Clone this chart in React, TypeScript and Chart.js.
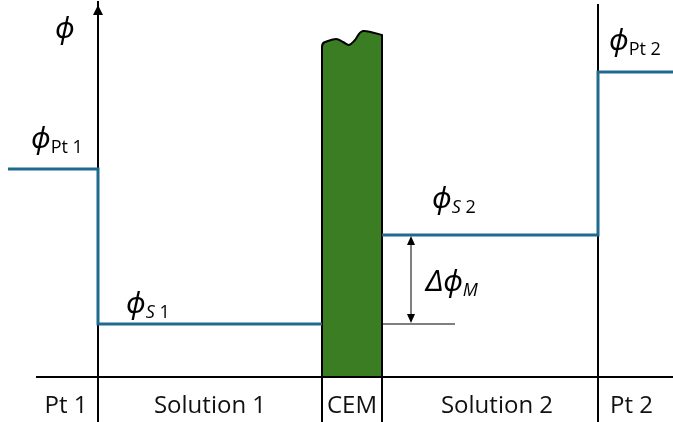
import React, { useEffect, useRef } from 'react';
import { Chart, registerables } from 'chart.js';

Chart.register(...registerables);

// Region names along the cell (x axis) and the x positions of their edges
const regions = ['Pt 1', 'Solution 1', 'CEM', 'Solution 2', 'Pt 2'];
const boundaries = [36, 98, 322, 382, 598, 673];
// Potential levels (arbitrary units, 0 = baseline)
const potentials = [208, 53, 142, 305]; // Pt 1, S 1, S 2, Pt 2
const potentialSubs = ['Pt 1', 'S 1', 'S 2', 'Pt 2'];
const lineStart = 8;
const axisTop = 372;
const pt2Top = 373;
const yBottom = -45;
// wavy top outline of the membrane
const cemTopX = [322, 336, 343, 349, 355, 363, 382];
const cemTopY = [334, 338, 335, 332, 337, 346, 342];
const deltaRefEnd = 455;
const deltaArrowX = 411;

const BLUE = '#1f6a8e';
const GREEN = '#3a7d22';
const SYM = "italic 29px 'Noto Sans', 'DejaVu Sans'";
const SUB = "18px 'Open Sans'";
const SUBI = "italic 18px 'Open Sans'";
const labelShift = [-1, 0, 0, 7, -4];

function seg(x1: number, y1: number, x2: number, y2: number, color: string, w: number, order: number) {
  return {
    type: 'line' as const,
    data: [{ x: x1, y: y1 }, { x: x2, y: y2 }],
    borderColor: color,
    borderWidth: w,
    pointRadius: 0,
    fill: false,
    order,
  };
}

export default function App() {
  const ref = useRef<HTMLCanvasElement | null>(null);
  useEffect(() => {
    document.body.style.margin = '0';
    const [b0, b1, b2, b3, b4, b5] = boundaries;
    const [pPt1, pS1, pS2, pPt2] = potentials;

    const cemPlugin = {
      id: 'cem',
      beforeDatasetsDraw(chart: any) {
        const { ctx, scales } = chart;
        const X = (v: number) => scales.x.getPixelForValue(v);
        const Y = (v: number) => scales.y.getPixelForValue(v);
        const pts = cemTopX.map((x, i) => [X(x), Y(cemTopY[i])]);
        ctx.save();
        ctx.beginPath();
        ctx.moveTo(X(b2), Y(0));
        ctx.lineTo(pts[0][0], pts[0][1] + 4);
        ctx.quadraticCurveTo(pts[0][0], pts[0][1], pts[0][0] + 3, pts[0][1] - 1);
        // Catmull-Rom through the outline points
        const P = [[pts[0][0] + 3, pts[0][1] - 1], ...pts.slice(1)];
        for (let i = 0; i < P.length - 1; i++) {
          const p0 = P[Math.max(0, i - 1)], p1 = P[i], p2 = P[i + 1], p3 = P[Math.min(P.length - 1, i + 2)];
          const c1x = p1[0] + (p2[0] - p0[0]) / 6, c1y = p1[1] + (p2[1] - p0[1]) / 6;
          const c2x = p2[0] - (p3[0] - p1[0]) / 6, c2y = p2[1] - (p3[1] - p1[1]) / 6;
          ctx.bezierCurveTo(c1x, c1y, c2x, c2y, p2[0], p2[1]);
        }
        ctx.lineTo(X(b3), Y(0));
        ctx.closePath();
        ctx.fillStyle = GREEN;
        ctx.fill();
        ctx.strokeStyle = '#000';
        ctx.lineWidth = 2;
        ctx.lineJoin = 'round';
        ctx.stroke();
        ctx.restore();
      },
    };

    const labelPlugin = {
      id: 'labels',
      afterDatasetsDraw(chart: any) {
        const { ctx, scales } = chart;
        const X = (v: number) => scales.x.getPixelForValue(v);
        const Y = (v: number) => scales.y.getPixelForValue(v);
        ctx.save();
        ctx.fillStyle = '#000';
        // axis arrowhead
        const ax = X(b1), ay = Y(axisTop);
        ctx.beginPath();
        ctx.moveTo(ax, ay);
        ctx.lineTo(ax - 5, ay + 10);
        ctx.lineTo(ax + 5, ay + 10);
        ctx.closePath();
        ctx.fill();
        // double arrow heads
        const dx = X(deltaArrowX);
        const dTop = Y(pS2), dBot = Y(pS1);
        ctx.beginPath();
        ctx.moveTo(dx, dTop + 1);
        ctx.lineTo(dx - 4, dTop + 10);
        ctx.lineTo(dx + 4, dTop + 10);
        ctx.closePath();
        ctx.fill();
        ctx.beginPath();
        ctx.moveTo(dx, dBot - 1);
        ctx.lineTo(dx - 4, dBot - 10);
        ctx.lineTo(dx + 4, dBot - 10);
        ctx.closePath();
        ctx.fill();

        const run = (x: number, y: number, parts: [string, string, number][]) => {
          let cx = x;
          ctx.textAlign = 'left';
          ctx.textBaseline = 'alphabetic';
          for (const [t, f, dy] of parts) {
            ctx.font = f;
            ctx.fillText(t, cx, y + dy);
            cx += ctx.measureText(t).width;
          }
        };
        const sub = (s: string): [string, string, number][] => {
          if (s.startsWith('S')) return [['S', SUBI, 5], [s.slice(1), SUB, 5]];
          return [[s, SUB, 5]];
        };
        const phi = '\u03D5';
        run(ax - 43, ay + 33, [[phi, SYM, 0]]);
        run(X(lineStart) + 23, Y(pPt1) - 21, [[phi, SYM, 0], ...sub(potentialSubs[0])]);
        run(X(b1) + 28, Y(pS1) - 11, [[phi, SYM, 0], ...sub(potentialSubs[1])]);
        run(X(b3) + 50, Y(pS2) - 27, [[phi, SYM, 0], ...sub(potentialSubs[2])]);
        run(X(b4) + 11, Y(pPt2) - 22, [[phi, SYM, 0], ...sub(potentialSubs[3])]);
        run(dx + 15, (dTop + dBot) / 2 + 11, [['\u0394', SYM, 0], [phi, SYM, 0], ['M', SUBI, 5]]);

        // region names
        ctx.font = "24px 'Open Sans'";
        ctx.textAlign = 'center';
        ctx.fillStyle = '#111';
        const ty = Y(0) + 36;
        regions.forEach((r, i) => {
          const cx = (X(boundaries[i]) + X(boundaries[i + 1])) / 2 + labelShift[i];
          ctx.fillText(r, cx, ty);
        });
        ctx.restore();
      },
    };

    const datasets: any[] = [
      {
        type: 'line',
        data: [
          { x: lineStart, y: pPt1 }, { x: b1, y: pPt1 }, { x: b1, y: pS1 }, { x: b2, y: pS1 },
          { x: (b2 + b3) / 2, y: null },
          { x: b3, y: pS2 }, { x: b4, y: pS2 }, { x: b4, y: pPt2 }, { x: b5, y: pPt2 },
        ],
        borderColor: BLUE,
        borderWidth: 3,
        pointRadius: 0,
        spanGaps: false,
        fill: false,
        order: 0,
      },
      seg(b1, yBottom, b1, axisTop + 4, '#000', 2, 2),
      seg(b4, yBottom, b4, pt2Top, '#000', 2, 2),
      seg(b0, 0, b5, 0, '#000', 2, 1),
      seg(b2, yBottom, b2, 0, '#000', 2, 1),
      seg(b3, yBottom, b3, 0, '#000', 2, 1),
      seg(b3, pS1, deltaRefEnd, pS1, '#000', 1, 1),
      seg(deltaArrowX, pS1 + 3, deltaArrowX, pS2 - 3, '#000', 1, 1),
    ];

    const chart = new Chart(ref.current as HTMLCanvasElement, {
      type: 'line',
      data: { datasets },
      options: {
        animation: false,
        responsive: true,
        maintainAspectRatio: false,
        layout: { padding: 0 },
        plugins: { legend: { display: false }, tooltip: { enabled: false } },
        scales: {
          x: { type: 'linear', min: 0, max: 673, display: false },
          y: { type: 'linear', min: yBottom, max: 377, display: false },
        },
      },
      plugins: [cemPlugin, labelPlugin],
    } as any);
    return () => chart.destroy();
  }, []);
  return (
    <div style={{ width: 673, height: 422, position: 'relative', background: '#fff' }}>
      <canvas ref={ref} />
    </div>
  );
}
